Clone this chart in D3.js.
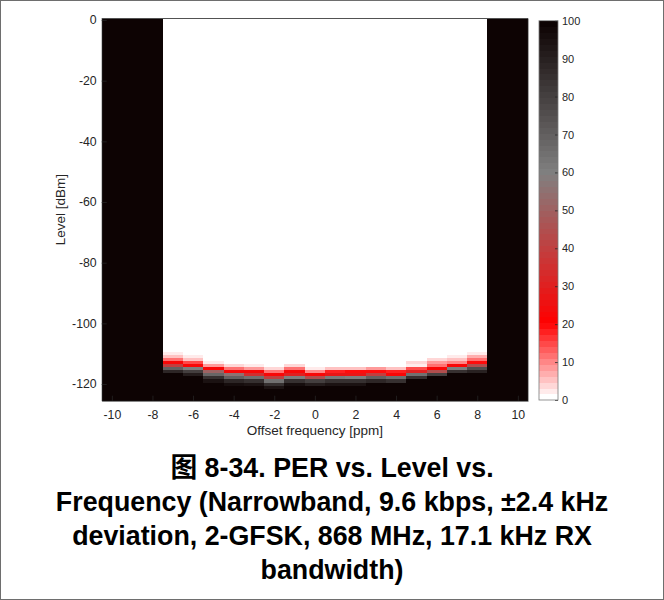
<!DOCTYPE html>
<html>
<head>
<meta charset="utf-8">
<script src="https://cdn.jsdelivr.net/npm/d3@7"></script>
<style>
  html, body { margin: 0; padding: 0; background: #fff; }
  svg { display: block; }
  text { font-family: "Liberation Sans", Arial, "Noto Sans CJK SC", sans-serif; }
</style>
</head>
<body>
<svg id="chart" width="664" height="600"></svg>
<script>
// ---------------- DATA ----------------
// Offset frequency columns [ppm]
const offsets = [-10, -9, -8, -7, -6, -5, -4, -3, -2, -1, 0, 1, 2, 3, 4, 5, 6, 7, 8, 9, 10];
// Columns where no packet was received at any level (PER = 100 %)
const deadOffsets = [-10, -9, -8, 9, 10];
// Measured columns: first level of the listed transition and PER [%] going down 1 dB per value.
// Above the listed range PER = 0, below it PER = 100.
const measuredOffsets = [-7, -6, -5, -4, -3, -2, -1, 0, 1, 2, 3, 4, 5, 6, 7, 8];
const transitionStart = [-110, -111, -113, -114, -114, -115, -114, -115, -115, -115, -115, -115, -113, -112, -111, -110];
const transitionPER = [
  [3, 6, 12, 22, 40, 70, 88],        // -7
  [2, 5, 15, 22, 60, 80, 92],        // -6
  [3, 8, 22, 50, 68, 85, 95],        // -5
  [4, 12, 22, 55, 70, 88, 96],       // -4
  [3, 8, 22, 35, 65, 85, 95],        // -3
  [4, 12, 22, 40, 65, 85, 95],       // -2
  [4, 12, 22, 30, 60, 85, 96],       // -1
  [3, 10, 22, 45, 80, 92],           // 0
  [6, 18, 28, 62, 85, 95],           // 1
  [6, 20, 28, 60, 85, 95],           // 2
  [8, 20, 40, 70, 88],               // 3
  [6, 18, 22, 65, 85],               // 4
  [4, 3, 15, 30, 65, 85],            // 5
  [4, 8, 12, 22, 45, 80],            // 6
  [2, 6, 10, 22, 60, 85],            // 7
  [3, 7, 12, 20, 45, 75, 90]         // 8
];
// Level grid [dBm], 1 dB rows from 0 to -125
const levels = d3.range(0, -126, -1);
const xTicks = [-10, -8, -6, -4, -2, 0, 2, 4, 6, 8, 10];
const yTicks = [0, -20, -40, -60, -80, -100, -120];
const cbarTicks = [0, 10, 20, 30, 40, 50, 60, 70, 80, 90, 100];
const titleLines = [
  "图 8-34. PER vs. Level vs.",
  "Frequency (Narrowband, 9.6 kbps, ±2.4 kHz",
  "deviation, 2-GFSK, 868 MHz, 17.1 kHz RX",
  "bandwidth)"
];

// ---------------- BUILD GRID ----------------
function perAt(off, lev) {
  if (deadOffsets.includes(off)) return 100;
  const i = measuredOffsets.indexOf(off);
  const s = transitionStart[i];
  const vals = transitionPER[i];
  if (lev > s) return 0;
  const k = s - lev;
  if (k < vals.length) return vals[k];
  return 100;
}
const cells = [];
offsets.forEach(o => levels.forEach(l => cells.push({ o, l, v: perAt(o, l) })));

// ---------------- COLOR MAP (64-level, white -> red -> gray -> black) ----------------
const cmapCont = d3.scaleLinear()
  .domain([0, 20, 60, 100])
  .range(["#ffffff", "#ff0000", "#808080", "#0d0303"])
  .interpolate(d3.interpolateRgb);
const NC = 64;
function colorOf(v) {
  let idx = Math.floor(v / 100 * NC);
  if (idx > NC - 1) idx = NC - 1;
  if (idx < 0) idx = 0;
  return cmapCont(idx / (NC - 1) * 100);
}

// ---------------- LAYOUT ----------------
const svg = d3.select("#chart");
const plot = { left: 101.7, right: 528, top: 18.5, bottom: 400.7 };
const x = d3.scaleLinear().domain([-10.5, 10.5]).range([plot.left, plot.right]);
const y = d3.scaleLinear().domain([0.5, -125.5]).range([plot.top, plot.bottom]);
const axisColor = "#262626";
const tickFont = 12.3;

// figure border
svg.append("rect").attr("x", 0.5).attr("y", 0.5).attr("width", 663).attr("height", 599)
  .attr("fill", "none").attr("stroke", "#6e6e6e").attr("stroke-width", 1);

// heatmap cells
svg.append("g").selectAll("rect").data(cells).join("rect")
  .attr("x", d => x(d.o - 0.5))
  .attr("y", d => y(d.l + 0.5))
  .attr("width", d => x(d.o + 0.5) - x(d.o - 0.5) + 0.3)
  .attr("height", d => y(d.l - 0.5) - y(d.l + 0.5) + 0.3)
  .attr("fill", d => colorOf(d.v))
  .attr("shape-rendering", "crispEdges");

// axes (MATLAB style: ticks inside)
const tickLen = 5;
const xAxis = d3.axisBottom(x).tickValues(xTicks).tickSizeInner(-tickLen).tickSizeOuter(0).tickPadding(10)
  .tickFormat(d3.format("d"));
const gx = svg.append("g").attr("transform", `translate(0,${plot.bottom})`).call(xAxis);
const yAxis = d3.axisLeft(y).tickValues(yTicks).tickSizeInner(-tickLen).tickSizeOuter(0).tickPadding(5)
  .tickFormat(d3.format("d"));
const gy = svg.append("g").attr("transform", `translate(${plot.left},0)`).call(yAxis);
[gx, gy].forEach(g => {
  g.select(".domain").attr("stroke", axisColor).attr("stroke-width", 0.8);
  g.selectAll(".tick line").attr("stroke", axisColor).attr("stroke-width", 0.8);
  g.selectAll(".tick text").attr("fill", axisColor).attr("font-size", tickFont)
    .attr("font-family", '"Liberation Sans", Arial, sans-serif');
});
gx.selectAll(".tick text").text(d => d < 0 ? "-" + Math.abs(d) : d);
gy.selectAll(".tick text").text(d => d < 0 ? "-" + Math.abs(d) : d);
// box top/right
svg.append("line").attr("x1", plot.left).attr("x2", plot.right).attr("y1", plot.top).attr("y2", plot.top)
  .attr("stroke", axisColor).attr("stroke-width", 0.8);
svg.append("line").attr("x1", plot.right).attr("x2", plot.right).attr("y1", plot.top).attr("y2", plot.bottom)
  .attr("stroke", axisColor).attr("stroke-width", 0.8);

// axis labels
svg.append("text").attr("x", (plot.left + plot.right) / 2).attr("y", 435)
  .attr("text-anchor", "middle").attr("font-size", 13.5).attr("fill", axisColor)
  .text("Offset frequency [ppm]");
svg.append("text").attr("transform", `translate(65,${(plot.top + plot.bottom) / 2}) rotate(-90)`)
  .attr("text-anchor", "middle").attr("font-size", 13.5).attr("fill", axisColor)
  .text("Level [dBm]");

// ---------------- COLORBAR ----------------
const cb = { left: 539, width: 19, top: 20.7, bottom: 400 };
const cy = d3.scaleLinear().domain([0, 100]).range([cb.bottom, cb.top]);
const bands = d3.range(NC);
svg.append("g").selectAll("rect").data(bands).join("rect")
  .attr("x", cb.left)
  .attr("y", i => cy((i + 1) * 100 / NC))
  .attr("width", cb.width)
  .attr("height", i => cy(i * 100 / NC) - cy((i + 1) * 100 / NC) + 0.4)
  .attr("fill", i => cmapCont(i / (NC - 1) * 100))
  .attr("shape-rendering", "crispEdges");
const cAxis = d3.axisRight(cy).tickValues(cbarTicks).tickSizeInner(-3).tickSizeOuter(0).tickPadding(4);
const gc = svg.append("g").attr("transform", `translate(${cb.left + cb.width},0)`).call(cAxis);
gc.select(".domain").remove();
gc.selectAll(".tick line").attr("stroke", axisColor).attr("stroke-width", 0.8);
gc.selectAll(".tick text").attr("fill", axisColor).attr("font-size", 11)
  .attr("font-family", '"Liberation Sans", Arial, sans-serif');
svg.append("rect").attr("x", cb.left).attr("y", cb.top).attr("width", cb.width).attr("height", cb.bottom - cb.top)
  .attr("fill", "none").attr("stroke", "#7a7a7a").attr("stroke-width", 0.8);

// ---------------- TITLE ----------------
svg.append("g").selectAll("text").data(titleLines).join("text")
  .attr("x", 332)
  .attr("y", (d, i) => 477 + i * 34)
  .attr("text-anchor", "middle")
  .attr("font-size", 26.8)
  .attr("font-weight", "bold")
  .attr("fill", "#000")
  .text(d => d);
</script>
</body>
</html>
